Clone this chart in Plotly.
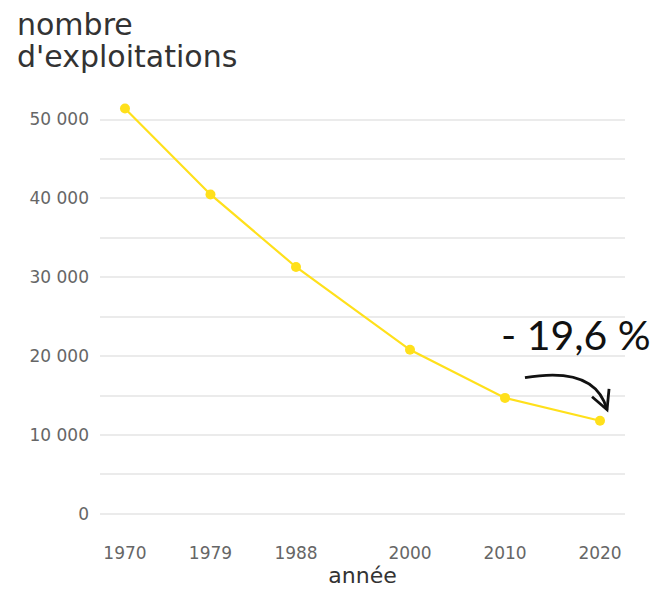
import plotly.graph_objects as go

years = [1970, 1979, 1988, 2000, 2010, 2020]
exploitations = [51400, 40500, 31300, 20800, 14700, 11800]
y_ticks = [0, 10000, 20000, 30000, 40000, 50000]
y_tick_labels = ["0", "10 000", "20 000", "30 000", "40 000", "50 000"]
title_lines = ["nombre", "d'exploitations"]
change_label = "- 19,6 %"

fig = go.Figure()
fig.add_trace(go.Scatter(
    x=years, y=exploitations, mode="lines+markers",
    line=dict(color="#FFE01B", width=2.2),
    marker=dict(color="#FFE01B", size=10),
    hoverinfo="skip", showlegend=False,
))

# curved arrow from 2010 towards 2020 point
fig.add_shape(type="path", xref="x", yref="y",
              path="M 2012.1,17260 Q 2019.5,18800 2020.74,13200",
              line=dict(color="#111111", width=2.8))
fig.add_shape(type="path", xref="x", yref="y",
              path="M 2019.16,14850 L 2020.74,13200 L 2020.95,15860",
              line=dict(color="#111111", width=2.8))

fig.add_annotation(x=2017.5, y=22700, xref="x", yref="y", text=change_label,
                   showarrow=False, xanchor="center", yanchor="middle",
                   font=dict(family="Lato", size=41, color="#111111"))

# two-line title
for line_text, ypos in zip(title_lines, [1.1794, 1.1005]):
    fig.add_annotation(x=-0.162, y=ypos, xref="paper", yref="paper", text=line_text,
                       showarrow=False, xanchor="left", yanchor="middle",
                       font=dict(family="DejaVu Sans", size=30, color="#333333"))

fig.update_layout(
    width=659, height=593,
    margin=dict(l=100, r=34, t=99, b=76),
    plot_bgcolor="white", paper_bgcolor="white",
    separators=", ",
    font=dict(family="DejaVu Sans", color="#666666"),
)
fig.update_xaxes(range=[1967.37, 2022.63], tickvals=years, ticktext=[str(y) for y in years],
                 showgrid=False, zeroline=False, showline=False,
                 tickfont=dict(size=17, color="#666666"), ticks="", ticklabelstandoff=24,
                 title=dict(text="année", font=dict(size=22, color="#333333"), standoff=4))
fig.update_yaxes(range=[-400, 52600], tickvals=y_ticks, ticktext=y_tick_labels,
                 showgrid=True, gridcolor="#EBEBEB", gridwidth=1.5,
                 zeroline=False, showline=False,
                 minor=dict(dtick=5000, tick0=0, showgrid=True, gridcolor="#EBEBEB", gridwidth=1.5),
                 tickfont=dict(size=17, color="#666666"), ticks="", ticklabelstandoff=10)

fig.write_html("out.html", config={"displayModeBar": False},
               post_script="document.body.style.margin='0';document.body.style.overflow='hidden';")
